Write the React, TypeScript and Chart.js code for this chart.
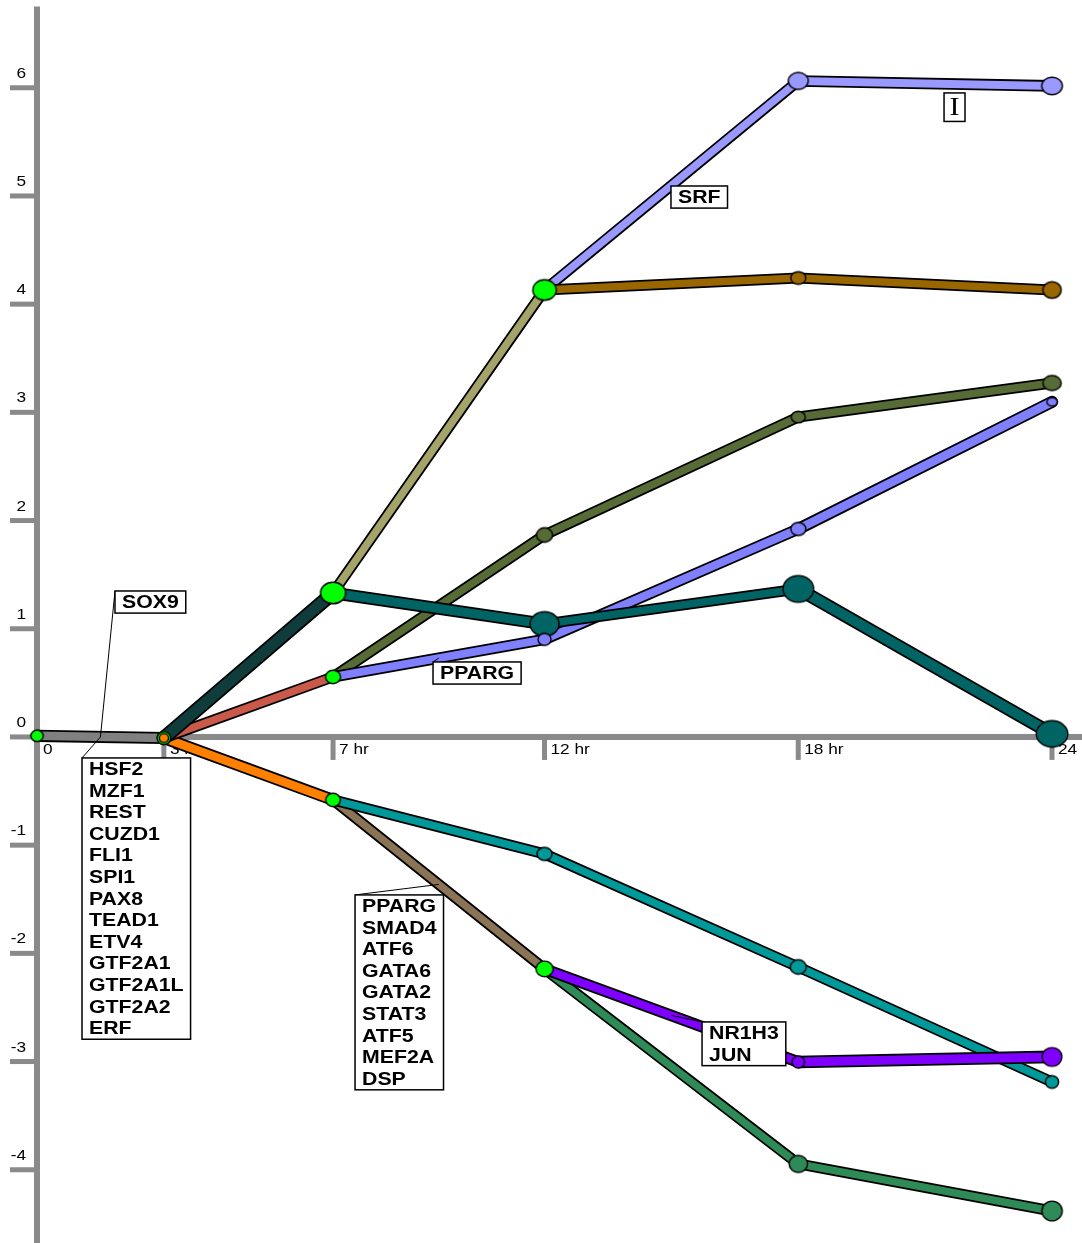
import React, { useEffect, useRef } from "react";
import { Chart, registerables } from "chart.js";

Chart.register(...registerables);

// ---------- data ----------
const HOURS = [0, 3, 7, 12, 18, 24];
const X_TICK_LABELS = ["0", "3 hr", "7 hr", "12 hr", "18 hr", "24 hr"];
const Y_TICKS = [-4, -3, -2, -1, 0, 1, 2, 3, 4, 5, 6];

// expression paths (each starts at its split node)
const rootPath = [0.01, -0.01]; // 0 -> 3 hr
const slatePath = [-0.01, 1.331]; // 3 -> 7
const redPath = [-0.01, 0.555]; // 3 -> 7
const orangePath = [-0.01, -0.582]; // 3 -> 7
const khakiPath = [1.331, 4.131]; // 7 -> 12
const darkTealPath = [1.331, 1.044, 1.368, 0.028]; // 7 -> 24
const periwinklePath = [4.131, 6.063, 6.017]; // 12 -> 24
const brownPath = [4.131, 4.242, 4.131]; // 12 -> 24
const olivePath = [0.555, 1.867, 2.957, 3.271]; // 7 -> 24
const bluePath = [0.555, 0.902, 1.922, 3.097]; // 7 -> 24
const tealPath = [-0.582, -1.081, -2.126, -3.189]; // 7 -> 24
const taupePath = [-0.582, -2.144]; // 7 -> 12
const purplePath = [-2.144, -3.004, -2.957]; // 12 -> 24
const seaGreenPath = [-2.144, -3.946, -4.381]; // 12 -> 24

// regulator labels
const sox9Genes = ["SOX9"];
const hsf2Genes = ["HSF2", "MZF1", "REST", "CUZD1", "FLI1", "SPI1", "PAX8", "TEAD1", "ETV4", "GTF2A1", "GTF2A1L", "GTF2A2", "ERF"];
const ppargUpperGenes = ["PPARG"];
const srfGenes = ["SRF"];
const cursorGlyph = ["I"];
const ppargLowerGenes = ["PPARG", "SMAD4", "ATF6", "GATA6", "GATA2", "STAT3", "ATF5", "MEF2A", "DSP"];
const nr1h3Genes = ["NR1H3", "JUN"];

// ---------- styles ----------
const GREEN = "#00ff00";
const AXIS_GRAY = "#8a8a8a";
const STRETCH = 1.15;
const OUTLINE = 3.6;
const BOLD_FONT = "bold 18.5px 'Liberation Sans', Arial, sans-serif";
const TICK_FONT = "15px 'Liberation Sans', Arial, sans-serif";

type NodeSpec = [number, number, string?] | null;
type PathSpec = { values: number[]; start: number; color: string; widths: number[]; nodes: NodeSpec[] };

const PATHS: PathSpec[] = [
  { values: rootPath, start: 0, color: "#808080", widths: [8.5], nodes: [[6.2, 5.7, GREEN], [6.8, 6.4, GREEN]] },
  { values: orangePath, start: 1, color: "#ff7f00", widths: [8.5], nodes: [[4.6, 4.4, "#ff7f00"], [7.3, 6.7, GREEN]] },
  { values: redPath, start: 1, color: "#c95a49", widths: [7.5], nodes: [null, [7.5, 6.7, GREEN]] },
  { values: slatePath, start: 1, color: "#103c3c", widths: [11], nodes: [null, [12.5, 10.8, GREEN]] },
  { values: khakiPath, start: 2, color: "#a3a36a", widths: [7.5], nodes: [null, [11.7, 10.3, GREEN]] },
  { values: olivePath, start: 2, color: "#566b35", widths: [7.5, 7.5, 7.5], nodes: [null, [8, 7.2], [7, 5.8], [9.2, 7.5]] },
  { values: bluePath, start: 2, color: "#8080ff", widths: [8, 8, 8.5], nodes: [null, [6.5, 6], [7.5, 6.5], [5.2, 4.2]] },
  { values: darkTealPath, start: 2, color: "#006464", widths: [9, 7.5, 10], nodes: [null, [14.5, 12.2], [15.3, 13.3], [15.8, 13.2]] },
  { values: periwinklePath, start: 3, color: "#9999ff", widths: [7.5, 8], nodes: [null, [10, 8.5], [10.3, 8.8]] },
  { values: brownPath, start: 3, color: "#996600", widths: [7.5, 7.5], nodes: [null, [7.5, 6.3], [9.2, 8.3]] },
  { values: taupePath, start: 2, color: "#8b7355", widths: [7.5], nodes: [null, [8.6, 7.9, GREEN]] },
  { values: tealPath, start: 2, color: "#009999", widths: [7.5, 7.5, 7.5], nodes: [null, [7.5, 6.5], [8, 7.2], [6.6, 6.3]] },
  { values: seaGreenPath, start: 3, color: "#2e8b57", widths: [7.5, 7.5], nodes: [null, [9.2, 8.5], [10.2, 9.9]] },
  { values: purplePath, start: 3, color: "#7f00ff", widths: [8, 9], nodes: [null, [6.3, 6], [9.9, 9.4]] },
];

type LabelSpec = {
  lines: string[];
  at: [number, number]; // top-left corner, data coords
  leader?: [number, number]; // target on a path, data coords
  font?: string;
  lineHeight?: number;
  baseline?: number;
  padX?: number;
  align?: CanvasTextAlign;
};

const LABELS: LabelSpec[] = [
  { lines: sox9Genes, at: [1.844, 1.349], leader: [1.5, 0.0] },
  { lines: hsf2Genes, at: [1.064, -0.194], leader: [1.5, 0.0] },
  { lines: ppargUpperGenes, at: [9.364, 0.693], leader: [9.5, 0.7285] },
  { lines: srfGenes, at: [14.99, 5.092] },
  { lines: cursorGlyph, at: [21.447, 5.952], font: "26px 'Liberation Serif', 'DejaVu Serif', serif", lineHeight: 28, baseline: 22, padX: 5.5, align: "center" },
  { lines: ppargLowerGenes, at: [7.52, -1.46], leader: [9.5, -1.363] },
  { lines: nr1h3Genes, at: [15.725, -2.634], leader: [15.0, -2.574] },
];

function makeNode(rx: number, ry: number, fill: string): HTMLCanvasElement {
  const c = document.createElement("canvas");
  const pad = 2;
  c.width = Math.ceil(rx * 2 + pad * 2);
  c.height = Math.ceil(ry * 2 + pad * 2);
  const g = c.getContext("2d")!;
  g.beginPath();
  g.ellipse(c.width / 2, c.height / 2, rx, ry, 0, 0, Math.PI * 2);
  g.fillStyle = fill;
  g.fill();
  g.lineWidth = 1.4;
  g.strokeStyle = "#000";
  g.stroke();
  return c;
}

function stretchedText(ctx: CanvasRenderingContext2D, text: string, x: number, y: number, align: CanvasTextAlign) {
  ctx.save();
  ctx.translate(x, y);
  ctx.scale(STRETCH, 1);
  ctx.textAlign = align;
  ctx.textBaseline = "alphabetic";
  ctx.fillText(text, 0, 0);
  ctx.restore();
}

const axesPlugin = {
  id: "dremAxes",
  beforeDatasetsDraw(chart: any) {
    const { ctx, scales, chartArea } = chart;
    const xs = scales.x;
    const ys = scales.y;
    const x0 = xs.getPixelForValue(0);
    const y0 = ys.getPixelForValue(0);
    ctx.save();
    ctx.strokeStyle = AXIS_GRAY;
    ctx.lineCap = "butt";
    ctx.lineWidth = 6;
    ctx.beginPath();
    ctx.moveTo(x0, ys.getPixelForValue(6.75));
    ctx.lineTo(x0, chartArea.bottom);
    ctx.stroke();
    ctx.beginPath();
    ctx.moveTo(x0, y0);
    ctx.lineTo(chartArea.right, y0);
    ctx.stroke();

    ctx.lineWidth = 5;
    ctx.fillStyle = "#000";
    ctx.font = TICK_FONT;
    for (const v of Y_TICKS) {
      const py = ys.getPixelForValue(v);
      ctx.beginPath();
      ctx.moveTo(x0 - 27, py);
      ctx.lineTo(x0, py);
      ctx.stroke();
      stretchedText(ctx, String(v), x0 - 11, py - 10, "right");
    }
    HOURS.forEach((h, i) => {
      const px = xs.getPixelForValue(h);
      ctx.beginPath();
      ctx.moveTo(px, y0);
      ctx.lineTo(px, y0 + 23);
      ctx.stroke();
      stretchedText(ctx, X_TICK_LABELS[i], px + 6, y0 + 17, "left");
    });
    ctx.restore();
  },
};

const labelsPlugin = {
  id: "dremLabels",
  afterDatasetsDraw(chart: any) {
    const { ctx, scales } = chart;
    const xs = scales.x;
    const ys = scales.y;
    ctx.save();
    for (const lab of LABELS) {
      const font = lab.font || BOLD_FONT;
      const lh = lab.lineHeight || 21.6;
      const base = lab.baseline || 17;
      const padX = lab.padX || 7;
      ctx.font = font;
      const tw = Math.max(...lab.lines.map((s) => ctx.measureText(s).width)) * STRETCH;
      const left = xs.getPixelForValue(lab.at[0]);
      const top = ys.getPixelForValue(lab.at[1]);
      const w = tw + padX * 2;
      const h = lab.lines.length * lh + 0.5;
      if (lab.leader) {
        ctx.strokeStyle = "#000";
        ctx.lineWidth = 1;
        ctx.beginPath();
        ctx.moveTo(xs.getPixelForValue(lab.leader[0]), ys.getPixelForValue(lab.leader[1]));
        ctx.lineTo(left, top);
        ctx.stroke();
      }
      ctx.fillStyle = "#fff";
      ctx.fillRect(left, top, w, h);
      ctx.strokeStyle = "#000";
      ctx.lineWidth = 1.5;
      ctx.strokeRect(left, top, w, h);
      ctx.fillStyle = "#000";
      lab.lines.forEach((s, i) => {
        if (lab.align === "center") stretchedText(ctx, s, left + w / 2, top + base + i * lh, "center");
        else stretchedText(ctx, s, left + padX, top + base + i * lh, "left");
      });
    }
    ctx.restore();
  },
};

export default function App() {
  const ref = useRef<HTMLCanvasElement | null>(null);

  useEffect(() => {
    if (!ref.current) return;
    const datasets: any[] = [];
    const nodes: { x: number; y: number; rx: number; ry: number; color: string }[] = [];

    PATHS.forEach((p, k) => {
      const data = p.values.map((v, i) => ({ x: HOURS[p.start + i], y: v }));
      const common = {
        type: "line",
        data,
        pointRadius: 0,
        pointHoverRadius: 0,
        fill: false,
        tension: 0,
        clip: false,
        borderCapStyle: "round",
        borderJoinStyle: "round",
      };
      datasets.push({
        ...common,
        borderColor: "#000",
        borderWidth: p.widths[0] + OUTLINE,
        segment: { borderWidth: (c: any) => p.widths[c.p0DataIndex] + OUTLINE },
        order: 1000 - 2 * k,
      });
      datasets.push({
        ...common,
        borderColor: p.color,
        borderWidth: p.widths[0],
        segment: { borderWidth: (c: any) => p.widths[c.p0DataIndex] },
        order: 999 - 2 * k,
      });
      p.nodes.forEach((n, i) => {
        if (!n) return;
        nodes.push({ x: HOURS[p.start + i], y: p.values[i], rx: n[0], ry: n[1], color: n[2] || p.color });
      });
    });

    nodes.sort((a, b) => b.rx * b.ry - a.rx * a.ry);
    datasets.push({
      type: "line",
      showLine: false,
      clip: false,
      data: nodes.map((n) => ({ x: n.x, y: n.y })),
      pointStyle: nodes.map((n) => makeNode(n.rx, n.ry, n.color)),
      pointRadius: nodes.map((n) => n.rx),
      pointHoverRadius: nodes.map((n) => n.rx),
      order: 0,
    });

    const chart = new Chart(ref.current, {
      type: "line",
      data: { datasets },
      options: {
        responsive: false,
        devicePixelRatio: 1,
        animation: false,
        events: [],
        layout: { padding: 0, autoPadding: false },
        plugins: { legend: { display: false }, tooltip: { enabled: false } },
        scales: {
          x: { type: "linear", min: -0.875, max: 24.709, display: false },
          y: { type: "linear", min: -4.677, max: 6.811, display: false },
        },
      } as any,
      plugins: [axesPlugin, labelsPlugin],
    } as any);
    return () => chart.destroy();
  }, []);

  return (
    <div style={{ position: "absolute", left: 0, top: 0, width: 1082, height: 1243, background: "#fff" }}>
      <canvas ref={ref} width={1082} height={1243} style={{ display: "block" }} />
    </div>
  );
}
